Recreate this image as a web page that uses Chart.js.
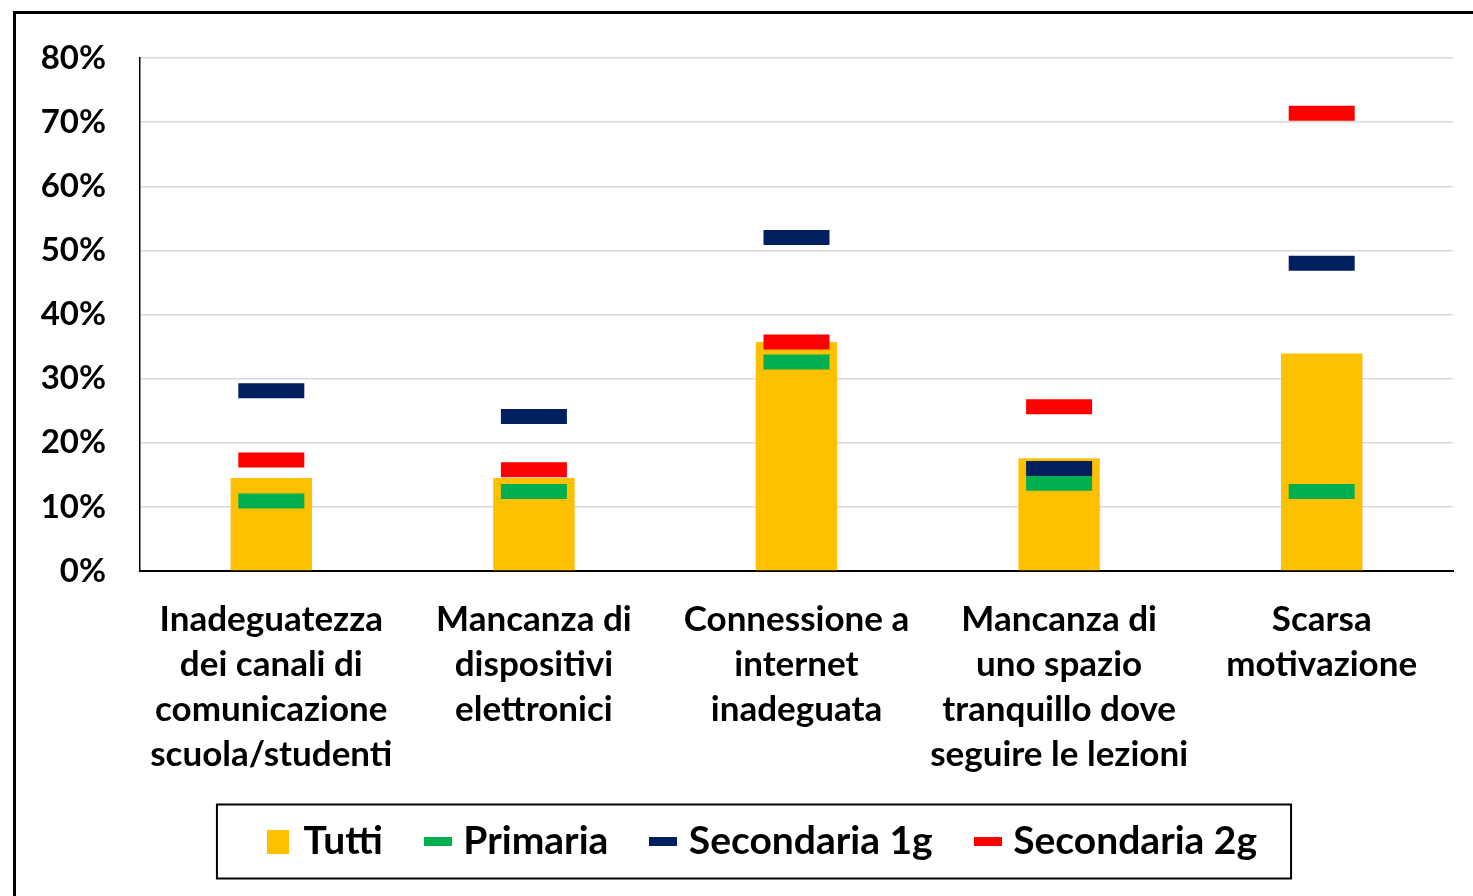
<!DOCTYPE html>
<html>
<head>
<meta charset="utf-8">
<script src="https://cdn.jsdelivr.net/npm/chart.js@4.4.1/dist/chart.umd.min.js"></script>
<style>
    html, body { margin: 0; padding: 0; background: #fff; overflow: hidden; }
    #frame {
        position: absolute; left: 13px; top: 11px;
        width: 1500px; height: 900px;
        border: 3px solid #000;
    }
    #wrap { position: absolute; left: 0; top: 0; width: 1457px; height: 882px; }
</style>
</head>
<body>
<div id="frame"><div id="wrap"><canvas id="barChart"></canvas></div></div>
<script>
// categories (multi-line labels)
const categories = [
    ['Inadeguatezza', 'dei canali di', 'comunicazione', 'scuola/studenti'],
    ['Mancanza di', 'dispositivi', 'elettronici'],
    ['Connessione a', 'internet', 'inadeguata'],
    ['Mancanza di', 'uno spazio', 'tranquillo dove', 'seguire le lezioni'],
    ['Scarsa', 'motivazione']
];

// values in %
const tutti = [14.5, 14.5, 35.7, 17.6, 33.9];
const primaria = [10.9, 12.4, 32.6, 13.7, 12.4];
const secondaria1g = [28.1, 24.1, 52.0, 16.0, 48.0];
const secondaria2g = [17.3, 15.8, 35.7, 25.6, 71.4];

const yTicks = [0, 10, 20, 30, 40, 50, 60, 70, 80];

const FONT = 'Lato, "Open Sans", sans-serif';

// small canvases used as legend markers
function makeMarker(w, h, color) {
    const c = document.createElement('canvas');
    c.width = w;
    c.height = h;
    const g = c.getContext('2d');
    g.fillStyle = color;
    g.fillRect(0, 0, w, h);
    return c;
}

const markerDataset = (label, data, color, order) => ({
    type: 'line',
    label: label,
    data: data,
    showLine: false,
    pointStyle: 'line',
    pointRadius: 33,
    pointHoverRadius: 33,
    pointBorderWidth: 15,
    pointHoverBorderWidth: 15,
    borderColor: color,
    backgroundColor: color,
    legendMarker: makeMarker(28, 9, color),
    order: order
});

// nudge the legend a bit to the right, like the original
const LEGEND_SHIFT = 30;

const legendBox = {
    id: 'legendBox',
    afterLayout(chart) {
        const lg = chart.legend;
        lg.left += LEGEND_SHIFT;
        lg.right += LEGEND_SHIFT;
        (lg.legendHitBoxes || []).forEach(b => { b.left += LEGEND_SHIFT; });
    },
    // frame round the legend
    afterDraw(chart) {
        const boxes = chart.legend.legendHitBoxes;
        if (!boxes || !boxes.length) return;
        const left = Math.min(...boxes.map(b => b.left)) - 55;
        const right = Math.max(...boxes.map(b => b.left + b.width)) + 34;
        const cy = boxes[0].top + boxes[0].height / 2;
        const ctx = chart.ctx;
        ctx.save();
        ctx.strokeStyle = '#000';
        ctx.lineWidth = 2;
        ctx.strokeRect(left, cy - 37, right - left, 74);
        ctx.restore();
    }
};

const ctxBar = document.getElementById('barChart').getContext('2d');

const barChart = new Chart(ctxBar, {
    type: 'bar',
    data: {
        labels: categories,
        datasets: [
            {
                label: 'Tutti',
                data: tutti,
                backgroundColor: '#FFC000',
                barPercentage: 0.62,
                categoryPercentage: 0.5,
                legendMarker: makeMarker(22, 24, '#FFC000'),
                order: 3
            },
            markerDataset('Primaria', primaria, '#00B050', 2),
            markerDataset('Secondaria 1g', secondaria1g, '#002060', 1),
            markerDataset('Secondaria 2g', secondaria2g, '#FF0000', 0)
        ]
    },
    options: {
        responsive: true,
        maintainAspectRatio: false,
        animation: false,
        layout: {
            autoPadding: false,
            padding: { top: 44, right: 20, left: 0, bottom: 25 }
        },
        plugins: {
            legend: {
                display: true,
                position: 'bottom',
                labels: {
                    usePointStyle: true,
                    pointStyleWidth: 12,
                    boxWidth: 12,
                    padding: 49,
                    color: '#000',
                    font: { family: FONT, size: 39, weight: 'bold' },
                    generateLabels: function (chart) {
                        return chart.data.datasets.map((ds, i) => ({
                            text: ds.label,
                            fillStyle: ds.backgroundColor,
                            strokeStyle: ds.backgroundColor,
                            lineWidth: 0,
                            pointStyle: ds.legendMarker,
                            hidden: false,
                            datasetIndex: i
                        }));
                    }
                }
            },
            tooltip: { enabled: false }
        },
        scales: {
            x: {
                offset: true,
                grid: { display: false, drawTicks: false },
                border: { color: '#000', width: 2 },
                ticks: {
                    color: '#000',
                    padding: 26,
                    maxRotation: 0,
                    autoSkip: false,
                    font: { family: FONT, size: 35, weight: 'bold', lineHeight: 1.286 }
                },
                afterFit: function (scale) {
                    scale.height = 202;
                    scale.paddingLeft = 0;
                    scale.paddingRight = 0;
                }
            },
            y: {
                min: 0,
                max: 80,
                afterBuildTicks: function (scale) {
                    scale.ticks = yTicks.map(v => ({ value: v }));
                },
                grid: { color: '#D9D9D9', lineWidth: 1.5, drawTicks: false },
                border: { color: '#000', width: 1.5 },
                ticks: {
                    color: '#000',
                    padding: 34,
                    font: { family: FONT, size: 33, weight: 'bold' },
                    callback: function (value) { return value + '%'; }
                },
                afterFit: function (scale) {
                    scale.width = 124;
                    scale.paddingTop = 0;
                    scale.paddingBottom = 0;
                }
            }
        }
    },
    plugins: [legendBox]
});
</script>
</body>
</html>
